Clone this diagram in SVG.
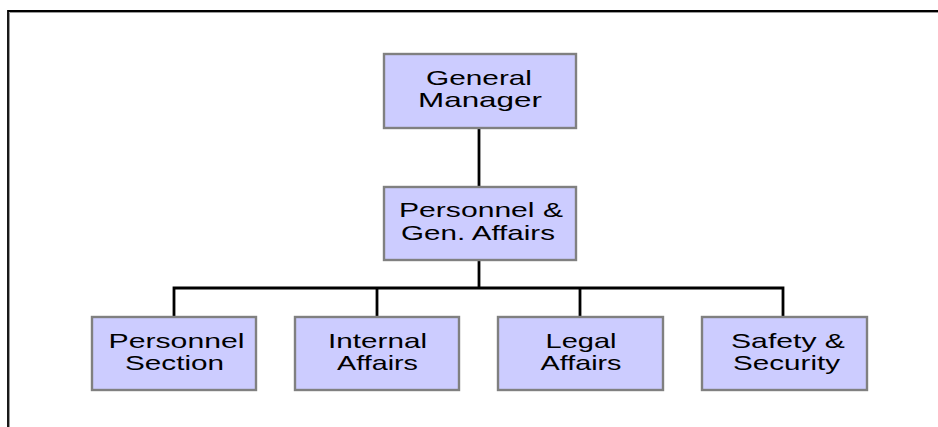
<svg xmlns="http://www.w3.org/2000/svg" width="938" height="427" viewBox="0 0 938 427">
<style>
.box{fill:#ccccff;stroke:#808080;stroke-width:2.4}
.t{font-family:"Liberation Sans",Arial,sans-serif;font-size:21px;fill:#000;text-anchor:middle}
.c{fill:none;stroke:#000;stroke-width:2.8}
</style>
<rect width="938" height="427" fill="#fff"/>
<g id="frame">
<path d="M9.5,427 V12.5 H938" fill="none" stroke="#9a9a9a" stroke-width="1"/>
<path d="M8,427 V11 H938" fill="none" stroke="#000" stroke-width="1.8"/>
</g>
<g id="connectors">
<path class="c" d="M479,128 V187"/>
<path class="c" d="M479,260 V288"/>
<path class="c" d="M174,317 V288 H783 V317"/>
<path class="c" d="M377,288 V317"/>
<path class="c" d="M580,288 V317"/>
</g>
<g id="general-manager">
<rect class="box" x="384" y="54" width="192" height="74"/>
<text class="t" x="479" y="84.5" textLength="106" lengthAdjust="spacingAndGlyphs">General</text>
<text class="t" x="480" y="107" textLength="124" lengthAdjust="spacingAndGlyphs">Manager</text>
</g>
<g id="personnel-gen-affairs">
<rect class="box" x="384" y="187" width="192" height="73"/>
<text class="t" x="481" y="217" textLength="164" lengthAdjust="spacingAndGlyphs">Personnel &amp;</text>
<text class="t" x="478" y="239.5" textLength="154" lengthAdjust="spacingAndGlyphs">Gen. Affairs</text>
</g>
<g id="personnel-section">
<rect class="box" x="92" y="317" width="164" height="73"/>
<text class="t" x="176.5" y="348" textLength="136" lengthAdjust="spacingAndGlyphs">Personnel</text>
<text class="t" x="174.5" y="369.5" textLength="99" lengthAdjust="spacingAndGlyphs">Section</text>
</g>
<g id="internal-affairs">
<rect class="box" x="295" y="317" width="164" height="73"/>
<text class="t" x="377.5" y="348" textLength="99" lengthAdjust="spacingAndGlyphs">Internal</text>
<text class="t" x="377.5" y="369.5" textLength="81" lengthAdjust="spacingAndGlyphs">Affairs</text>
</g>
<g id="legal-affairs">
<rect class="box" x="498" y="317" width="165" height="73"/>
<text class="t" x="581" y="348" textLength="71" lengthAdjust="spacingAndGlyphs">Legal</text>
<text class="t" x="581" y="369.5" textLength="81" lengthAdjust="spacingAndGlyphs">Affairs</text>
</g>
<g id="safety-security">
<rect class="box" x="702" y="317" width="165" height="73"/>
<text class="t" x="788" y="348" textLength="114" lengthAdjust="spacingAndGlyphs">Safety &amp;</text>
<text class="t" x="786.5" y="369.5" textLength="107" lengthAdjust="spacingAndGlyphs">Security</text>
</g>
</svg>
